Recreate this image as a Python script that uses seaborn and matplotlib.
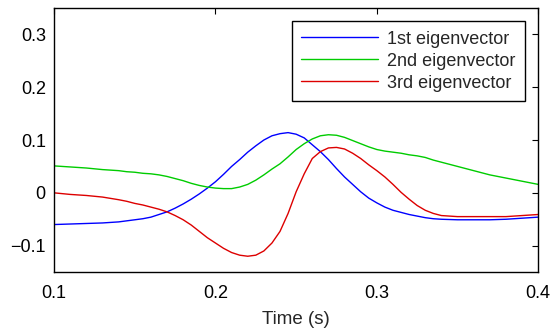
import pandas as pd
import matplotlib
matplotlib.use("Agg")
import matplotlib.pyplot as plt
import seaborn as sns

# time axis (s)
time = [0.10, 0.11, 0.12, 0.13, 0.14, 0.145, 0.15, 0.155, 0.16, 0.165,
        0.17, 0.175, 0.18, 0.185, 0.19, 0.195, 0.20, 0.205, 0.21, 0.215,
        0.22, 0.225, 0.23, 0.235, 0.24, 0.245, 0.25, 0.255, 0.26, 0.265,
        0.27, 0.275, 0.28, 0.285, 0.29, 0.295, 0.30, 0.305, 0.31, 0.315,
        0.32, 0.325, 0.33, 0.335, 0.34, 0.35, 0.36, 0.37, 0.38, 0.39, 0.40]

ev1 = [-0.060, -0.059, -0.058, -0.057, -0.055, -0.053, -0.051, -0.049, -0.046, -0.041,
       -0.036, -0.029, -0.021, -0.012, -0.002, 0.009, 0.021, 0.035, 0.050, 0.063,
       0.077, 0.089, 0.100, 0.108, 0.112, 0.114, 0.111, 0.104, 0.091, 0.078,
       0.063, 0.046, 0.030, 0.016, 0.002, -0.010, -0.019, -0.027, -0.033, -0.037,
       -0.041, -0.044, -0.047, -0.049, -0.050, -0.051, -0.051, -0.051, -0.050, -0.048, -0.046]

ev2 = [0.051, 0.049, 0.047, 0.044, 0.042, 0.040, 0.039, 0.037, 0.036, 0.034,
       0.031, 0.027, 0.023, 0.018, 0.014, 0.011, 0.009, 0.008, 0.008, 0.011,
       0.016, 0.024, 0.034, 0.045, 0.055, 0.068, 0.082, 0.093, 0.102, 0.108,
       0.110, 0.109, 0.105, 0.099, 0.093, 0.087, 0.082, 0.079, 0.077, 0.075,
       0.072, 0.070, 0.067, 0.062, 0.058, 0.050, 0.042, 0.034, 0.028, 0.022, 0.016]

ev3 = [0.000, -0.003, -0.005, -0.008, -0.013, -0.016, -0.020, -0.023, -0.027, -0.031,
       -0.036, -0.043, -0.051, -0.061, -0.073, -0.085, -0.095, -0.105, -0.113, -0.118,
       -0.120, -0.118, -0.110, -0.095, -0.073, -0.039, 0.002, 0.036, 0.065, 0.078,
       0.085, 0.086, 0.083, 0.075, 0.065, 0.053, 0.042, 0.030, 0.016, 0.001,
       -0.012, -0.024, -0.033, -0.039, -0.043, -0.045, -0.045, -0.045, -0.045, -0.043, -0.041]

labels = ["1st eigenvector", "2nd eigenvector", "3rd eigenvector"]
colors = ["#0000ff", "#00cc00", "#dd0000"]

df = pd.concat([
    pd.DataFrame({"time": time, "value": vals, "series": lab})
    for vals, lab in zip([ev1, ev2, ev3], labels)
])

sns.set_style("white")
plt.rcParams["font.family"] = ["Liberation Sans", "DejaVu Sans"]

fig = plt.figure(figsize=(5.52, 3.31), dpi=100)
ax = fig.add_axes([0.098, 0.178, 0.877, 0.798])

sns.lineplot(data=df, x="time", y="value", hue="series", palette=colors,
             linewidth=1.0, ax=ax, sort=False)

ax.set_xlim(0.1, 0.4)
ax.set_ylim(-0.15, 0.35)
ax.set_xticks([0.1, 0.2, 0.3, 0.4])
ax.set_xticklabels(["0.1", "0.2", "0.3", "0.4"])
ax.set_yticks([-0.1, 0, 0.1, 0.2, 0.3])
ax.set_yticklabels(["\u22120.1", "0", "0.1", "0.2", "0.3"])
ax.tick_params(direction="in", length=4, width=0.8, top=True, right=True,
               labelsize=13, colors="black", pad=6)
ax.tick_params(axis="x", pad=9.5)
for s in ax.spines.values():
    s.set_color("black")
    s.set_linewidth(1.0)
ax.set_xlabel("Time (s)", fontsize=13.5, labelpad=6)
ax.set_ylabel("")

leg = ax.legend(loc="upper right", fontsize=13, frameon=True, fancybox=False,
                framealpha=1, edgecolor="black", borderaxespad=0.75,
                handlelength=4.3, handletextpad=0.5, labelspacing=0.28,
                borderpad=0.5)
leg.get_frame().set_linewidth(1.0)

fig.savefig("out.png", dpi=100)
